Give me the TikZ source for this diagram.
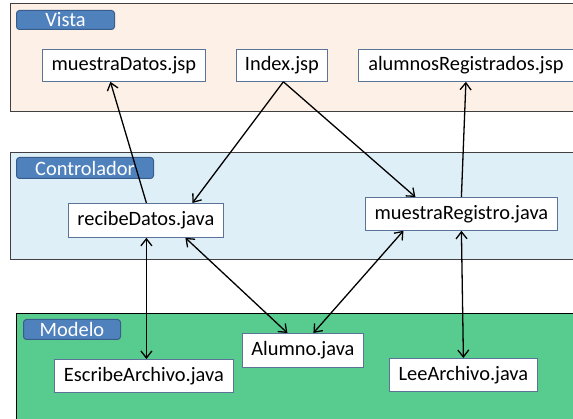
\documentclass[tikz,border=0pt]{standalone}
\usepackage{fontspec}
\setmainfont{Carlito}
\usetikzlibrary{calc,arrows.meta}
\definecolor{vistafill}{RGB}{253,240,231}
\definecolor{ctrlfill}{RGB}{222,239,247}
\definecolor{modfill}{RGB}{88,204,143}
\definecolor{labfill}{RGB}{79,129,189}
\definecolor{labdraw}{RGB}{56,93,138}
\definecolor{boxdraw}{RGB}{90,115,150}
\tikzset{
  panel/.style={draw=black!75, line width=1pt},
  tag/.style={draw=labdraw, fill=labfill, line width=1pt, rounded corners=3pt, text=white, inner sep=0pt, anchor=north west},
  filebox/.style={draw=boxdraw, fill=white, line width=0.8pt, inner sep=0pt, anchor=north west},
  link/.style={line width=1.3pt, -{Straight Barb[length=7pt,width=11pt]}},
  dlink/.style={line width=1.3pt, {Straight Barb[length=7pt,width=11pt]}-{Straight Barb[length=7pt,width=11pt]}},
}
\begin{document}
\begin{tikzpicture}[x=1pt,y=-1pt,font=\fontsize{20.4}{24}\selectfont]
\useasboundingbox (0,0) rectangle (573,419);
\clip (0,0) rectangle (573,419);
% panels
\node[panel, fill=vistafill, minimum width=580pt, minimum height=108pt, inner sep=0pt, anchor=north west] (vista) at (10,3) {};
\node[panel, fill=ctrlfill, minimum width=580pt, minimum height=107pt, inner sep=0pt, anchor=north west] (ctrl) at (10,152) {};
\node[draw=black, line width=1pt, fill=modfill, minimum width=580pt, minimum height=120pt, inner sep=0pt, anchor=north west] (modelo) at (16,313) {};
% tags
\node[tag, minimum width=98pt, minimum height=19pt] (tv) at (16,10) {Vista};
\node[tag, minimum width=137pt, minimum height=21pt] (tc) at (16,157) {Controlador};
\node[tag, minimum width=97pt, minimum height=20pt] (tm) at (23,319) {Modelo};
% files
\node[filebox, minimum width=163pt, minimum height=32pt] (md) at (42,49) {muestraDatos.jsp};
\node[filebox, minimum width=91pt, minimum height=32pt] (idx) at (236,49) {Index.jsp};
\node[filebox, minimum width=215pt, minimum height=32pt] (ar) at (358,49) {alumnosRegistrados.jsp};
\node[filebox, minimum width=155pt, minimum height=34pt] (rd) at (68,203) {recibeDatos.java};
\node[filebox, minimum width=192pt, minimum height=33pt] (mr) at (365,197) {muestraRegistro.java};
\node[filebox, minimum width=179pt, minimum height=33pt] (ea) at (54,359) {EscribeArchivo.java};
\node[filebox, minimum width=121pt, minimum height=34pt] (al) at (242,333) {Alumno.java};
\node[filebox, minimum width=148pt, minimum height=33pt] (la) at (389,358) {LeeArchivo.java};
% connectors
\coordinate (rdb) at ($(rd.south)+(0.5,0)$);
\draw[link] ($(rd.north)+(0.5,0)$) -- ($(md.south)+(-13.5,0)$);
\draw[link] ($(idx.south)+(1.5,0)$) -- ($(rd.north)+(46.5,0)$);
\draw[link] ($(idx.south)+(1.5,0)$) -- ($(mr.north)+(-46,0)$);
\draw[link] (mr.north) -- (ar.south);
\draw[dlink] (rdb) -- (rdb |- ea.north);
\draw[dlink] ($(rd.south)+(39.5,0)$) -- ($(al.north)+(-15.5,0)$);
\draw[dlink] ($(mr.south)+(-58,0)$) -- ($(al.north)+(10.5,0)$);
\draw[dlink] (mr.south) -- (la.north);
\end{tikzpicture}
\end{document}
